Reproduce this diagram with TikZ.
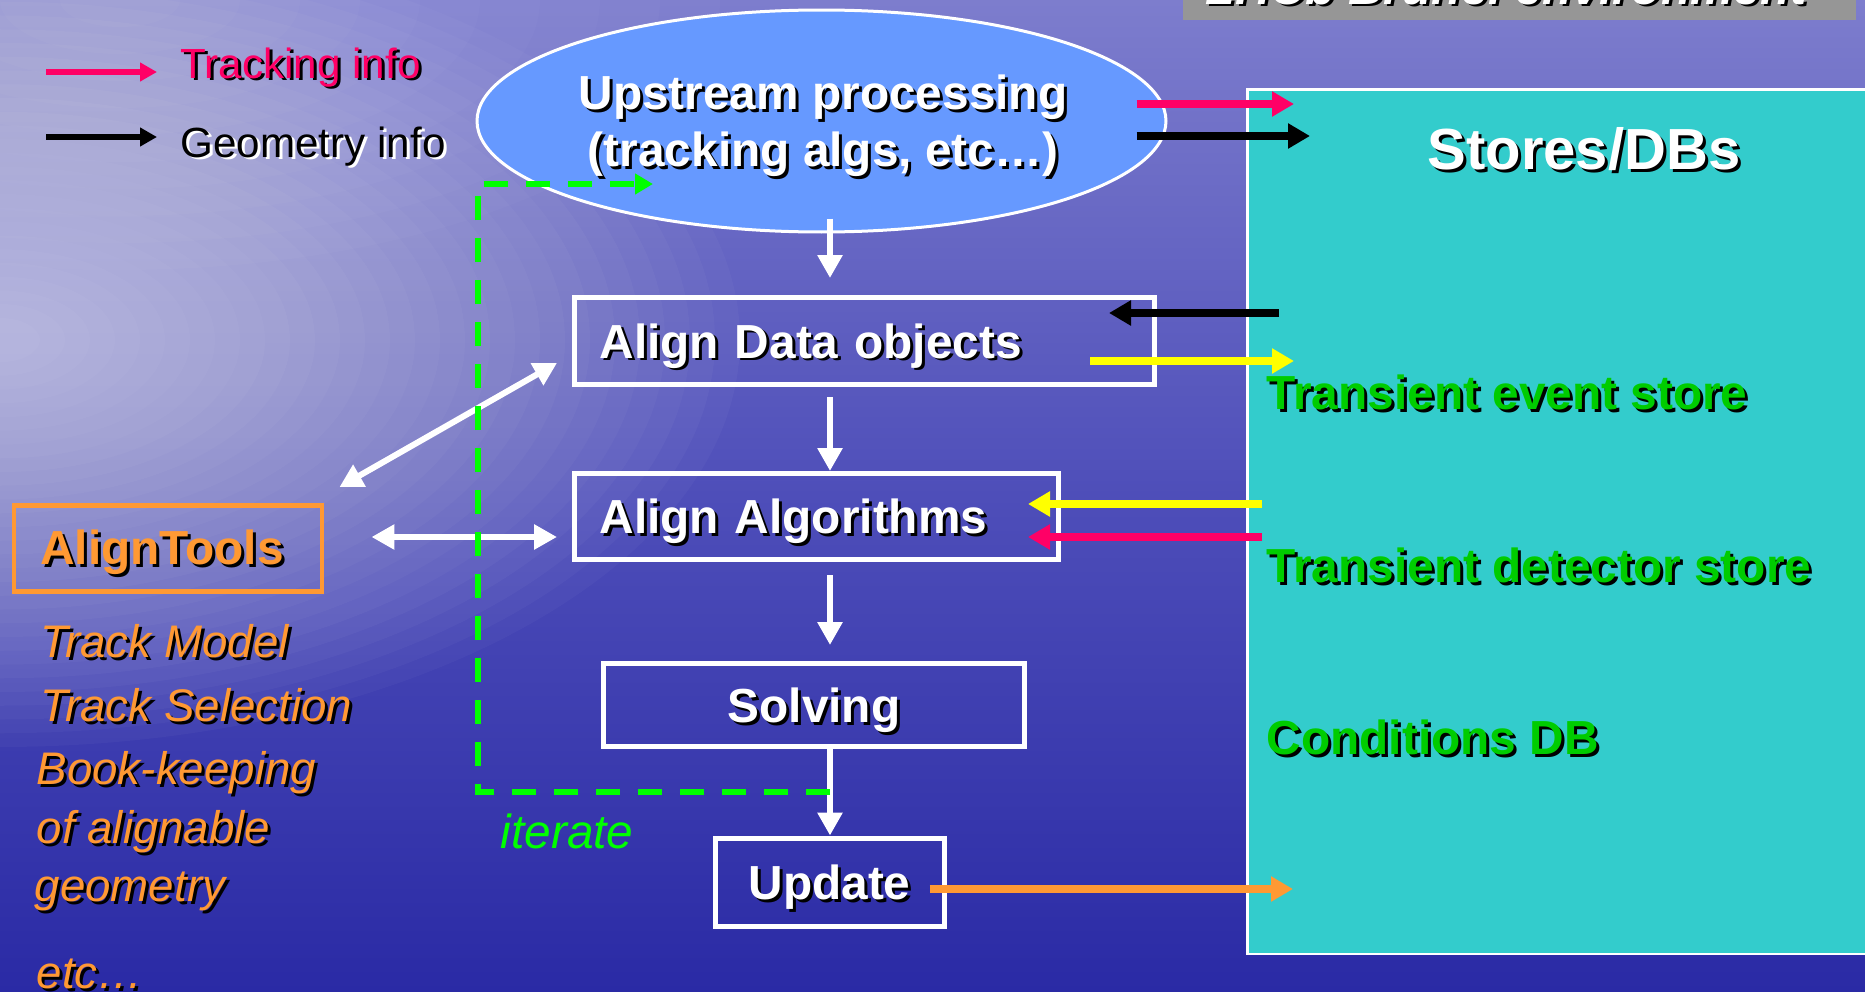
\documentclass[tikz,border=0pt]{standalone}
\usepackage{fontspec}
\setmainfont{Liberation Sans}
\usetikzlibrary{arrows.meta,shapes.geometric}

\definecolor{bgtop}{RGB}{125,125,205}
\definecolor{bgmid}{RGB}{78,78,185}
\definecolor{bgbot}{RGB}{42,42,165}
\definecolor{trackpink}{RGB}{255,0,102}
\definecolor{toolorange}{RGB}{255,153,51}
\definecolor{storegreen}{RGB}{0,204,0}
\definecolor{loopgreen}{RGB}{0,255,0}
\definecolor{storecyan}{RGB}{51,204,204}
\definecolor{ellblue}{RGB}{102,153,255}
\definecolor{envgray}{RGB}{150,150,150}
\definecolor{hiyellow}{RGB}{255,255,0}

\newcommand\shtxt[3]{{\color{#2}\rlap{\kern0.3mm\raisebox{-0.3mm}{#3}}}{\color{#1}#3}}
\newcommand\boxfont{\fontsize{13.6pt}{16.2pt}\selectfont\bfseries}
\newcommand\listfont{\fontsize{13pt}{15pt}\selectfont\itshape}
\newcommand\legfont{\fontsize{12pt}{14pt}\selectfont}

\begin{document}
\begin{tikzpicture}[x=0.1mm, y=-0.1mm,
  flowbox/.style={draw=white, line width=0.5mm, inner ysep=0pt, font=\boxfont, text height=3.4mm, text depth=0mm},
  warr/.style={white, line width=0.6mm, -{Triangle[width=2.4mm,length=2.3mm]}},
  wdbl/.style={white, line width=0.6mm, {Triangle[width=2.4mm,length=2.3mm]}-{Triangle[width=2.4mm,length=2.3mm]}},
  carr/.style={line width=0.75mm, -{Triangle[width=2.4mm,length=2.2mm]}},
  legarr/.style={line width=0.6mm, -{Triangle[width=1.8mm,length=1.7mm]}},
  gdash/.style={loopgreen, line width=0.6mm, dash pattern=on 2.4mm off 1.8mm, -{Triangle[width=2.0mm,length=1.8mm]}},
  listtxt/.style={anchor=base west, inner sep=0pt, font=\listfont}
]
\useasboundingbox (0,0) rectangle (1865,992);

% background
\begin{scope}
  \clip (0,0) rectangle (1865,992);
  \shade[top color=bgtop, bottom color=bgbot, middle color=bgmid] (0,0) rectangle (1865,992);
  \foreach \r in {40,65,...,760} {
    \fill[white, fill opacity=0.03] (0,340) ellipse [x radius=\r, y radius={0.55*\r}];
  }
  \foreach \r in {60,120,...,600} {
    \fill[white, fill opacity=0.025] (120,0) ellipse [x radius=\r, y radius={0.45*\r}];
  }
\end{scope}

% environment banner (cut off at the top)
\node[fill=envgray, anchor=south west, minimum width=67.3mm, minimum height=5mm, inner sep=0pt] (envbox) at (1182,21) {};
\node[anchor=base west, inner sep=0pt, font=\fontsize{13.8pt}{16pt}\selectfont\bfseries\itshape] (envtxt) at (1205,4) {\shtxt{white}{black}{LHCb Brunel environment}};

% stores
\node[draw=white, line width=0.25mm, fill=storecyan, anchor=north west, minimum width=65mm, minimum height=86.5mm, inner sep=0pt] (stores) at (1246,88) {};
\node[font=\fontsize{16.5pt}{19pt}\selectfont\bfseries] (sdb) at (1584,151) {\shtxt{white}{black}{Stores/DBs}};
\node[anchor=base west, inner sep=0pt, font=\boxfont] (tes) at (1266,409) {\shtxt{storegreen}{black}{Transient event store}};
\node[anchor=base west, inner sep=0pt, font=\boxfont] (tds) at (1266,582) {\shtxt{storegreen}{black}{Transient detector store}};
\node[anchor=base west, inner sep=0pt, font=\boxfont] (cdb) at (1266,754) {\shtxt{storegreen}{black}{Conditions DB}};

% upstream ellipse
\node[ellipse, draw=white, line width=0.3mm, fill=ellblue, minimum width=68.9mm, minimum height=22.2mm, inner sep=0pt] (up) at (821.5,121) {};
\node[font=\boxfont, align=center, inner sep=0pt] (uptxt) at (823,127) {\shtxt{white}{black}{Upstream processing}\\\shtxt{white}{black}{(tracking algs, etc…)}};

% flow boxes
\node[flowbox, anchor=north west, text width=53mm, align=left, inner xsep=2.5mm, minimum height=8.7mm] (adata) at (572,295) {\shtxt{white}{black}{Align Data objects}};
\node[flowbox, anchor=north west, text width=43.4mm, align=left, inner xsep=2.5mm, minimum height=8.6mm] (aalg) at (572,471) {\shtxt{white}{black}{Align Algorithms}};
\node[flowbox, minimum width=42.05mm, minimum height=8.3mm] (solving) at (814,705) {\shtxt{white}{black}{Solving}};
\node[flowbox, minimum width=22.9mm, minimum height=8.8mm] (update) at (829.5,882) {\shtxt{white}{black}{Update}};

% align tools
\node[draw=toolorange, line width=0.45mm, anchor=north west, text width=25.6mm, inner xsep=2.6mm, inner ysep=0pt, minimum height=8.6mm, align=left, font=\boxfont, text height=3.3mm, text depth=0mm] (tools) at (12,503) {\shtxt{toolorange}{black}{AlignTools}};
\node[listtxt] (tm1) at (40,657) {\shtxt{toolorange}{black}{Track Model}};
\node[listtxt] (tm2) at (40,721) {\shtxt{toolorange}{black}{Track Selection}};
\node[listtxt] (tm3) at (36,784) {\shtxt{toolorange}{black}{Book-keeping}};
\node[listtxt] (tm4) at (36,843) {\shtxt{toolorange}{black}{of alignable}};
\node[listtxt] (tm5) at (34,901) {\shtxt{toolorange}{black}{geometry}};
\node[listtxt] (tm6) at (36,988) {\shtxt{toolorange}{black}{etc…}};

% legend
\coordinate (lp1) at (46,72);
\coordinate (lp2) at (157,72);
\coordinate (lb1) at (46,137);
\coordinate (lb2) at (157,137);
\draw[legarr, trackpink] (lp1) -- (lp2);
\draw[legarr, black] (lb1) -- (lb2);
\node[anchor=base west, inner sep=0pt, font=\legfont] (lgt1) at (180,78) {\shtxt{trackpink}{black}{Tracking info}};
\node[anchor=base west, inner sep=0pt, font=\legfont] (lgt2) at (180,157) {\shtxt{black}{white}{Geometry info}};

% main flow arrows
\coordinate (spine) at (830,0);
\draw[warr] ([yshift=1.5mm]spine |- up.south) -- ([yshift=1.7mm]spine |- adata.north);
\draw[warr] ([yshift=-1mm]spine |- adata.south) -- (spine |- aalg.north);
\draw[warr] ([yshift=-1.3mm]spine |- aalg.south) -- ([yshift=1.6mm]spine |- solving.north);
\draw[warr] (spine |- solving.south) -- (spine |- update.north);

% tools arrows
\draw[wdbl] ([xshift=1.5mm,yshift=1.6mm]tools.north east) -- ([xshift=-1.5mm,yshift=-2.2mm]adata.west);
\draw[wdbl] ([xshift=4.7mm]tools.east |- 0,537) -- ([xshift=-1.5mm]aalg.west |- 0,537);

% store connections
\coordinate (s1) at (1294,104);
\coordinate (s2) at (1310,136);
\coordinate (s3) at (1279,313);
\coordinate (s4) at (1294,361);
\coordinate (s5) at (1262,504);
\coordinate (s6) at (1262,537);
\coordinate (s7) at (1293,889);
\draw[carr, trackpink] ([xshift=-3.1mm]up.east |- s1) -- (s1);
\draw[carr, black] ([xshift=-3.1mm]up.east |- s2) -- (s2);
\draw[carr, black] (s3) -- ([xshift=-4.8mm]adata.east |- s3);
\draw[carr, hiyellow] ([xshift=-6.7mm]adata.east |- s4) -- (s4);
\draw[carr, hiyellow] (s5) -- ([xshift=-3.3mm]aalg.east |- s5);
\draw[carr, trackpink] (s6) -- ([xshift=-3.3mm]aalg.east |- s6);
\draw[carr, toolorange] ([xshift=-1.7mm]update.east |- s7) -- (s7);

% iterate loop
\coordinate (lpstart) at (830,792);
\coordinate (lpend) at (653,184);
\draw[gdash] (lpstart) -- (478,792) -- (478,184) -- (lpend);
\node[anchor=base west, inner sep=0pt, font=\fontsize{13.6pt}{16pt}\selectfont\itshape, text=loopgreen] (iter) at (500,848) {iterate};
\end{tikzpicture}
\end{document}
